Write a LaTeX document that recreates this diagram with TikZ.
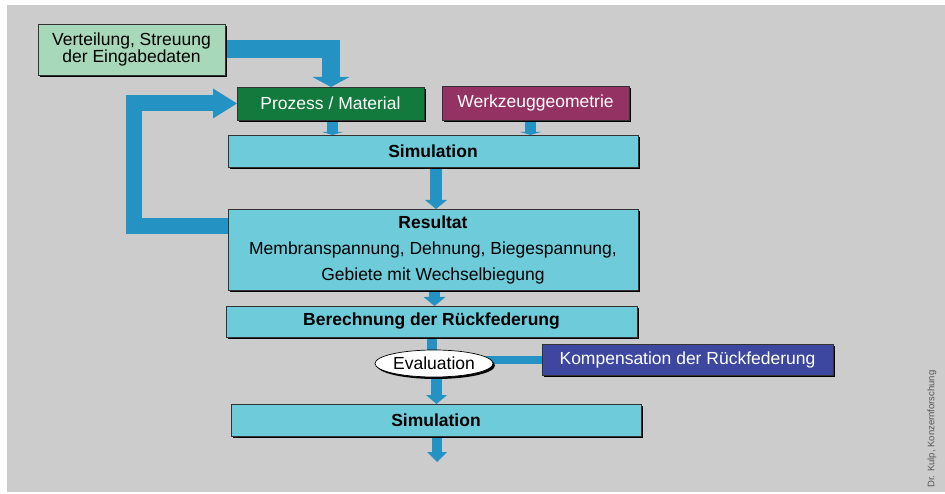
\documentclass[tikz,border=0pt]{standalone}
\usepackage{fontspec}
\setmainfont{Liberation Sans}
\usetikzlibrary{arrows.meta,shadows,shapes.geometric,calc}
\definecolor{bggrey}{HTML}{CCCCCC}
\definecolor{lgreen}{HTML}{A7D8B9}
\definecolor{dgreen}{HTML}{137A3E}
\definecolor{purp}{HTML}{943263}
\definecolor{cyanbox}{HTML}{6ECCDA}
\definecolor{flowblue}{HTML}{2592C4}
\definecolor{kblue}{HTML}{3D47A0}
\definecolor{notegrey}{HTML}{555555}
\pgfdeclarelayer{back}
\pgfdeclarelayer{bg}
\pgfsetlayers{back,bg,main}
\begin{document}
\begin{tikzpicture}[x=1pt,y=-1pt,
  box/.style={rectangle, draw=black!80, line width=0.7pt, inner sep=0pt, outer sep=0pt,
    drop shadow={shadow xshift=2pt, shadow yshift=-2pt, fill=black, opacity=1},
    font=\fontsize{17.5}{16}\selectfont, align=center},
  cbox/.style={box, fill=cyanbox, minimum width=410pt},
  flow/.style={draw=flowblue, line width=#1, line join=miter},
  tip/.style 2 args={-{Triangle[width=#1,length=#2,line width=0pt]}}
]
\begin{pgfonlayer}{back}
\fill[white] (0,0) rectangle (945,494);
\fill[bggrey] (7,5) rectangle (945,492);
\end{pgfonlayer}

\node[box, fill=lgreen, minimum width=187pt, minimum height=51pt] (ver) at (131.5,49.5)
  {Verteilung, Streuung\\der Eingabedaten};
\node[box, fill=dgreen, text=white, minimum width=187pt, minimum height=33pt] (pm) at (330.5,103.5)
  {Prozess / Material};
\node[box, fill=purp, text=white, minimum width=187pt, minimum height=34pt] (wz) at (535.5,103)
  {Werkzeuggeometrie};
\node[cbox, minimum height=32pt] (sim1) at (433,151) {\bfseries Simulation};
\node[cbox, minimum height=81pt, font=\fontsize{17.5}{26}\selectfont] (res) at (433,249.5)
  {\bfseries Resultat\\Membranspannung, Dehnung, Biegespannung,\\Gebiete mit Wechselbiegung};
\node[cbox, minimum width=411pt, minimum height=31pt] (ber) at (431.5,321.5)
  {\bfseries Berechnung der Rückfederung};
\node[box, ellipse, fill=white, draw=black, minimum width=118pt, minimum height=27pt] (eva) at (434,363.5)
  {Evaluation};
\node[box, fill=kblue, text=white, minimum width=291pt, minimum height=31pt] (komp) at (687.5,359.5)
  {Kompensation der Rückfederung};
\node[cbox, minimum height=32pt] (sim2) at (436,420) {\bfseries Simulation};
\coordinate (fb) at (133.5,226);
\coordinate (out) at (437,462);
\node[rotate=90, text=notegrey, font=\fontsize{9.5}{11}\selectfont] (note) at (932,429)
  {Dr. Kulp, Konzernforschung};

\begin{pgfonlayer}{bg}
\draw[flow=18pt, tip={37pt}{10pt}] (ver.east) -| ([xshift=0.5pt]pm.north);
\draw[flow=16pt, tip={30pt}{24pt}] ($(res.north west)+(0,17)$) -- (fb) |- (pm.west);
\draw[flow=11pt, tip={21pt}{3pt}] ([xshift=2pt]pm.south) -- ([xshift=2pt]pm.south |- sim1.north);
\draw[flow=11pt, tip={21pt}{3pt}] ([xshift=-5pt]wz.south) -- ([xshift=-5pt]wz.south |- sim1.north);
\draw[flow=12pt, tip={22pt}{9pt}] ([xshift=3pt]sim1.south) -- ([xshift=3pt]sim1.south |- res.north);
\draw[flow=11pt, tip={22pt}{9pt}] ([xshift=1.5pt]res.south) -- ([xshift=1.5pt]res.south |- ber.north);
\draw[flow=10pt] (ber.south) -- (ber.south |- eva.center);
\draw[flow=11pt, tip={21pt}{9pt}] ([xshift=2.5pt]eva.south) -- ([xshift=2.5pt]eva.south |- sim2.north);
\draw[flow=10pt, tip={20pt}{10pt}] ([xshift=1pt]sim2.south) -- (out);
\draw[flow=8pt] (komp.west) -- (komp.west -| eva.center);
\end{pgfonlayer}
\end{tikzpicture}
\end{document}
